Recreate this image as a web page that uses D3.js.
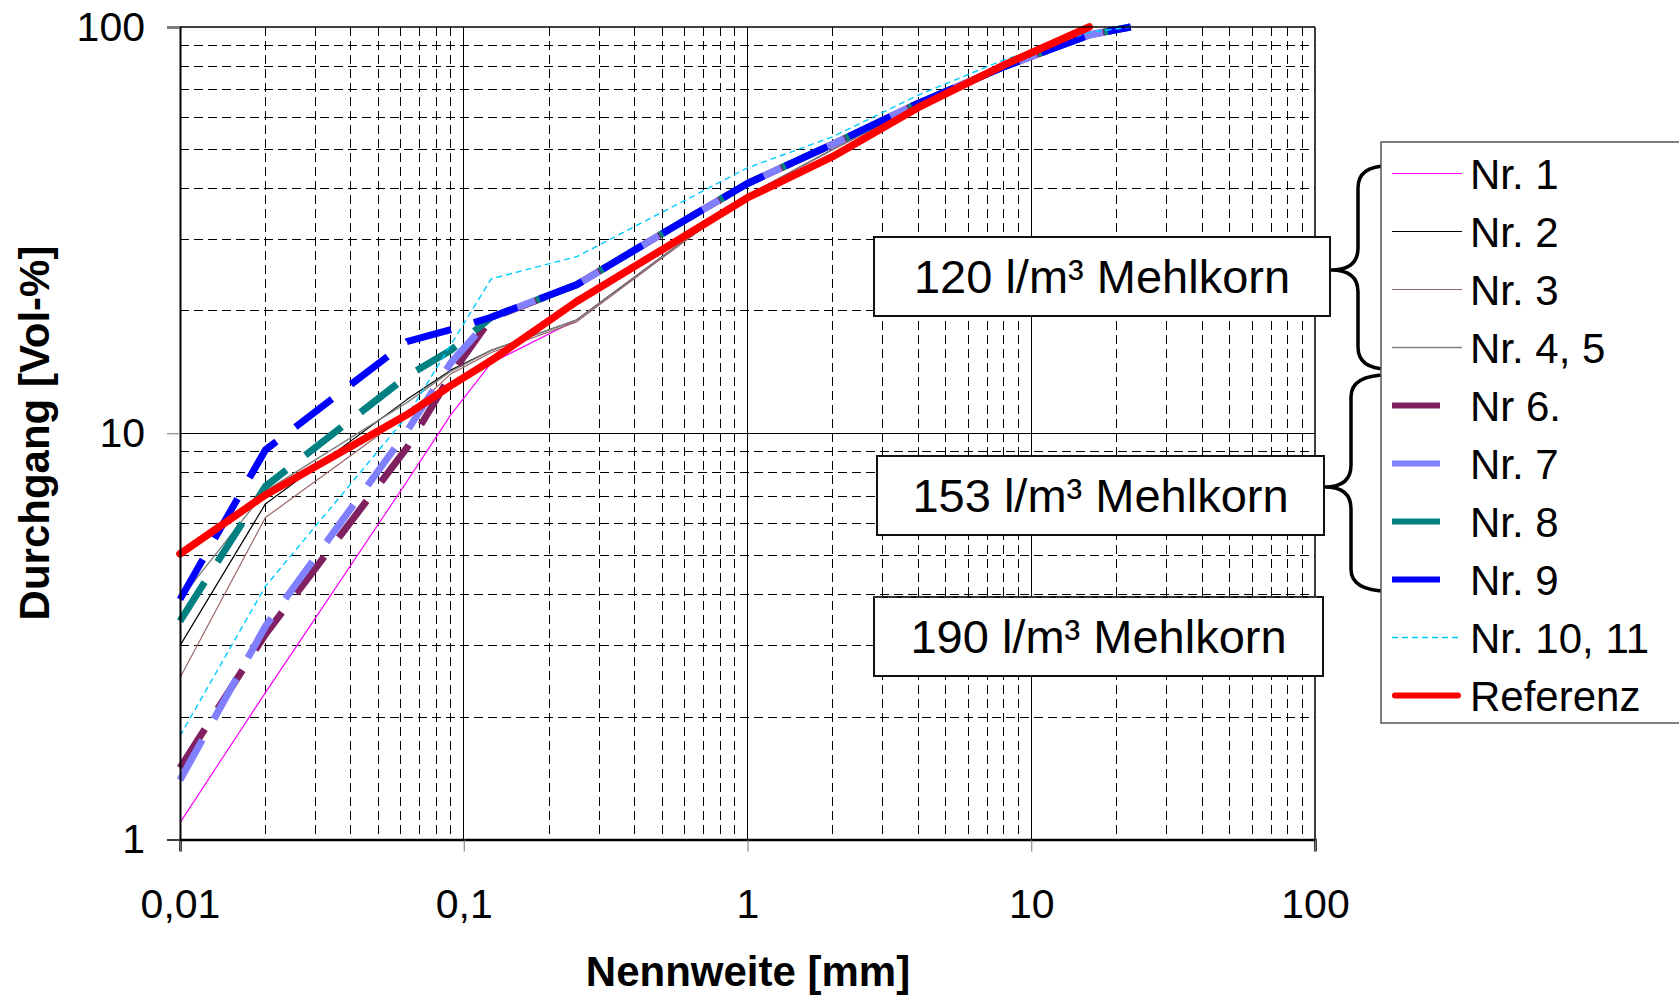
<!DOCTYPE html>
<html>
<head>
<meta charset="utf-8">
<script src="https://cdn.jsdelivr.net/npm/d3@7"></script>
<style>
  body { margin: 0; background: #fff; }
  svg { display: block; font-family: "Liberation Sans", Arial, sans-serif; }
</style>
</head>
<body>
<script>
(function() {
    // sieve sizes [mm]
    const sieves = [0.01, 0.02, 0.063, 0.09, 0.125, 0.25, 0.5, 1, 2, 4, 8, 16, 22.4];

    // passing [Vol-%] per mix
    const nr1    = [1.1, 2.3, 7.6, 11.1, 14.9, 19.0, 27.2, 38.5, 50.0, 64.0, 80.0, 96.0, 100];
    const nr2    = [3.0, 6.7, 12.1, 14.3, 16.0, 19.0, 27.2, 38.5, 50.0, 64.0, 80.0, 96.0, 100];
    const nr3    = [2.5, 6.2, 11.1, 14.0, 15.8, 18.8, 27.0, 38.5, 50.0, 64.0, 80.0, 96.0, 100];
    const nr45   = [3.9, 7.2, 11.9, 14.2, 16.0, 19.0, 27.2, 38.5, 50.0, 64.0, 80.0, 96.0, 100];
    const nr6    = [1.5, 3.2, 9.2, 13.9, 19.2, 23.2, 31.0, 41.2, 51.5, 64.9, 79.8, 95.6, 100];
    const nr7    = [1.4, 3.35, 10.1, 14.9, 19.3, 23.2, 31.0, 41.2, 51.5, 64.9, 79.8, 95.6, 100];
    const nr8    = [3.45, 7.4, 13.8, 16.0, 19.3, 23.2, 31.0, 41.2, 51.5, 64.9, 79.8, 95.6, 100];
    const nr9    = [3.9, 9.1, 16.8, 18.0, 19.3, 23.2, 31.0, 41.2, 51.5, 64.9, 79.8, 95.6, 100];
    const nr1011 = [1.8, 4.2, 11.0, 16.5, 24.0, 27.2, 35.0, 45.0, 53.7, 68.0, 83.0, 97.0, 100];
    const ref    = [5.05, 7.05, 11.1, 13.1, 15.1, 21.1, 28.3, 38.0, 48.0, 63.4, 80.6, 100, null];

    const seriesNames = ["Nr. 1", "Nr. 2", "Nr. 3", "Nr. 4, 5", "Nr 6.", "Nr. 7", "Nr. 8", "Nr. 9", "Nr. 10, 11", "Referenz"];
    const seriesValues = [nr1, nr2, nr3, nr45, nr6, nr7, nr8, nr9, nr1011, ref];

    const xTickValues = [0.01, 0.1, 1, 10, 100];
    const xTickLabels = ["0,01", "0,1", "1", "10", "100"];
    const yTickValues = [1, 10, 100];
    const yTickLabels = ["1", "10", "100"];

    const groupLabels = ["120 l/m³ Mehlkorn", "153 l/m³ Mehlkorn", "190 l/m³ Mehlkorn"];

    const width = 1679,
          height = 995,
          left = 180, right = 1315,
          top = 27, bottom = 839.5;

    // line styles, same order as seriesNames
    const styles = [
        {color: '#ff00ff', w: 1.2, dash: null,    legW: 1.2, legLen: 70},
        {color: '#000000', w: 1.2, dash: null,    legW: 1.2, legLen: 70},
        {color: '#996666', w: 1.2, dash: null,    legW: 1.2, legLen: 70},
        {color: '#808080', w: 1.4, dash: null,    legW: 1.4, legLen: 70},
        {color: '#802060', w: 7,   dash: '46,24', legW: 6,   legLen: 48},
        {color: '#8080ff', w: 7,   dash: '46,24', legW: 6,   legLen: 48},
        {color: '#008080', w: 7,   dash: '46,24', legW: 6,   legLen: 48},
        {color: '#0000ff', w: 7,   dash: '46,24', legW: 6,   legLen: 48},
        {color: '#00ccff', w: 1.4, dash: '6,4',   legW: 1.4, legLen: 70},
        {color: '#ff0000', w: 7.5, dash: null,    legW: 6,   legLen: 66}
    ];

    let svg = d3.select('body')
                .append('svg')
                .attr('width', width)
                .attr('height', height);

    let x = d3.scaleLog().domain([0.01, 100]).range([left, right]);
    let y = d3.scaleLog().domain([1, 100]).range([bottom, top]);

    // grid
    let minorX = [], minorY = [];
    [0.01, 0.1, 1, 10].forEach(d => { for (let k = 2; k <= 9; k++) minorX.push(d * k); });
    [1, 10].forEach(d => { for (let k = 2; k <= 9; k++) minorY.push(d * k); });

    let grid = svg.append('g').attr('shape-rendering', 'crispEdges');
    grid.selectAll('.hmin').data(minorY).enter().append('line')
        .attr('x1', left).attr('x2', right)
        .attr('y1', d => y(d)).attr('y2', d => y(d))
        .attr('stroke', '#000').attr('stroke-width', 1).attr('stroke-dasharray', '9,5');
    grid.selectAll('.vmin').data(minorX).enter().append('line')
        .attr('y1', top).attr('y2', bottom)
        .attr('x1', d => x(d)).attr('x2', d => x(d))
        .attr('stroke', '#000').attr('stroke-width', 1).attr('stroke-dasharray', '9,5');
    grid.selectAll('.vmaj').data([0.1, 1, 10]).enter().append('line')
        .attr('y1', top).attr('y2', bottom)
        .attr('x1', d => x(d)).attr('x2', d => x(d))
        .attr('stroke', '#000').attr('stroke-width', 1);
    grid.append('line')
        .attr('x1', left).attr('x2', right)
        .attr('y1', y(10)).attr('y2', y(10))
        .attr('stroke', '#000').attr('stroke-width', 1);

    // series
    let line = d3.line()
                 .defined(d => d.v !== null)
                 .x(d => x(d.s))
                 .y(d => y(d.v));

    seriesValues.forEach((vals, i) => {
        let pts = sieves.map((s, j) => ({s: s, v: vals[j]}));
        let st = styles[i];
        svg.append('path')
           .attr('d', line(pts))
           .attr('fill', 'none')
           .attr('stroke', st.color)
           .attr('stroke-width', st.w)
           .attr('stroke-dasharray', st.dash)
           .attr('stroke-linejoin', 'round')
           .attr('stroke-linecap', i === 9 ? 'round' : 'butt');
    });

    // frame
    svg.append('line').attr('x1', left).attr('x2', right).attr('y1', top).attr('y2', top)
       .attr('stroke', '#000').attr('stroke-width', 1.5);
    svg.append('line').attr('x1', right).attr('x2', right).attr('y1', top).attr('y2', bottom)
       .attr('stroke', '#000').attr('stroke-width', 1.5);

    // axes
    let xAxis = svg.append('g')
                   .attr('transform', `translate(0,${bottom})`)
                   .call(d3.axisBottom(x).tickValues(xTickValues)
                           .tickFormat((d, i) => xTickLabels[i]).tickSize(12));
    xAxis.select('.domain').attr('stroke', '#000').attr('stroke-width', 2.5);
    xAxis.selectAll('.tick line').attr('stroke', '#777').attr('stroke-width', 1);
    xAxis.selectAll('text').attr('y', 49).attr('font-size', 41)
         .attr('fill', '#000').attr('font-family', '"Liberation Sans", Arial, sans-serif');

    let yAxis = svg.append('g')
                   .attr('transform', `translate(${left},0)`)
                   .call(d3.axisLeft(y).tickValues(yTickValues)
                           .tickFormat((d, i) => yTickLabels[i]).tickSize(13));
    yAxis.select('.domain').attr('stroke', '#000').attr('stroke-width', 2);
    yAxis.selectAll('.tick line').attr('stroke', '#777').attr('stroke-width', 1);
    yAxis.selectAll('text').attr('x', -35).attr('font-size', 41)
         .attr('fill', '#000').attr('font-family', '"Liberation Sans", Arial, sans-serif');

    // axis titles
    svg.append('text')
       .attr('x', 748).attr('y', 971).attr('dy', '0.35em')
       .attr('text-anchor', 'middle').attr('font-size', 42).attr('font-weight', 'bold')
       .text('Nennweite [mm]');
    svg.append('text')
       .attr('transform', 'translate(34,433) rotate(-90)')
       .attr('dy', '0.35em')
       .attr('text-anchor', 'middle').attr('font-size', 42).attr('font-weight', 'bold')
       .text('Durchgang [Vol-%]');

    // group label boxes
    const boxes = [
        {x: 874, y: 237, w: 456, h: 79},
        {x: 877, y: 456, w: 447, h: 79},
        {x: 874, y: 597, w: 449, h: 79}
    ];
    boxes.forEach((b, i) => {
        svg.append('rect')
           .attr('x', b.x).attr('y', b.y).attr('width', b.w).attr('height', b.h)
           .attr('fill', '#fff').attr('stroke', '#111').attr('stroke-width', 2)
           .attr('stroke-dasharray', i === 2 ? `${b.w + 2 * b.h},0,${b.w}` : null);
        if (i === 2) {
            svg.append('line').attr('x1', b.x).attr('x2', b.x + b.w).attr('y1', b.y).attr('y2', b.y)
               .attr('stroke', '#333').attr('stroke-width', 2).attr('stroke-dasharray', '9,5');
        }
        svg.append('text')
           .attr('x', b.x + b.w / 2).attr('y', b.y + b.h / 2).attr('dy', '0.36em')
           .attr('text-anchor', 'middle').attr('font-size', 47)
           .text(groupLabels[i]);
    });

    // braces
    let brace = function(tipX, y1, y2, spineX, pointX, ym, r) {
        let p = d3.path();
        p.moveTo(tipX, y1);
        p.quadraticCurveTo(spineX, y1, spineX, y1 + r);
        p.lineTo(spineX, ym - r);
        p.quadraticCurveTo(spineX, ym, pointX, ym);
        p.quadraticCurveTo(spineX, ym, spineX, ym + r);
        p.lineTo(spineX, y2 - r);
        p.quadraticCurveTo(spineX, y2, tipX, y2);
        return p.toString();
    };
    [[1388, 166, 369, 1358, 1331, 270], [1388, 375, 591, 1351, 1325, 487]].forEach(b => {
        svg.append('path')
           .attr('d', brace(b[0], b[1], b[2], b[3], b[4], b[5], 22))
           .attr('fill', 'none').attr('stroke', '#000').attr('stroke-width', 3.5);
    });

    // legend
    let legend = svg.append('g');
    legend.append('rect')
          .attr('x', 1381).attr('y', 142).attr('width', 330).attr('height', 581)
          .attr('fill', '#fff').attr('stroke', '#555').attr('stroke-width', 1.5);

    let items = legend.selectAll('.item')
                      .data(seriesNames)
                      .enter()
                      .append('g')
                      .attr('transform', (d, i) => `translate(0,${173.5 + i * 58})`);
    items.append('line')
         .attr('x1', (d, i) => i === 9 ? 1395 : 1392)
         .attr('x2', (d, i) => 1392 + styles[i].legLen)
         .attr('y1', 0).attr('y2', 0)
         .attr('stroke', (d, i) => styles[i].color)
         .attr('stroke-width', (d, i) => styles[i].legW)
         .attr('stroke-dasharray', (d, i) => i === 8 ? '6,4' : null)
         .attr('stroke-linecap', (d, i) => i === 9 ? 'round' : 'butt');
    items.append('text')
         .attr('x', 1470).attr('y', 0).attr('dy', '0.36em')
         .attr('font-size', 42)
         .text(d => d);
})();
</script>
</body>
</html>
